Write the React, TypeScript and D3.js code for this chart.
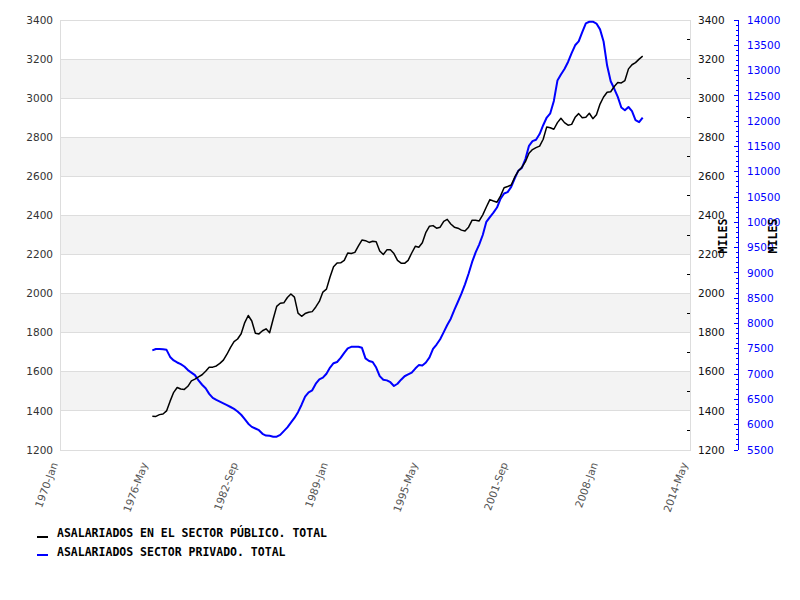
import React from "react";
import * as d3 from "d3";

const startYear = 1976;
const startMonth = 6; // July (quarter 3)

const publicValues = [
  1373, 1372, 1381, 1384, 1400, 1450, 1495, 1520, 1512, 1510,
  1526, 1554, 1563, 1574, 1585, 1603, 1623, 1624, 1630, 1643,
  1660, 1690, 1725, 1754, 1768, 1795, 1852, 1888, 1860, 1797,
  1794, 1810, 1820, 1800, 1870, 1935, 1951, 1953, 1980, 1998,
  1982, 1900, 1884, 1898, 1905, 1908, 1932, 1960, 2008, 2023,
  2085, 2138, 2157, 2158, 2170, 2208, 2205, 2211, 2244, 2274,
  2271, 2262, 2268, 2265, 2218, 2200, 2224, 2225, 2205, 2170,
  2156, 2155, 2170, 2208, 2242, 2237, 2260, 2314, 2345, 2348,
  2335, 2340, 2370, 2380, 2356, 2340, 2335, 2325, 2320, 2340,
  2376, 2375, 2372, 2403, 2443, 2481, 2474, 2468, 2500, 2542,
  2548, 2556, 2597, 2627, 2646, 2675, 2718, 2737, 2747, 2755,
  2790, 2853, 2849, 2841, 2875, 2897, 2875, 2862, 2866, 2902,
  2921, 2900, 2903, 2923, 2895, 2915, 2970, 3006, 3030, 3033,
  3060, 3080, 3078, 3090, 3150, 3171, 3182, 3200, 3215,
];

const privateValues = [
  7470, 7497, 7497, 7490, 7480, 7340, 7270, 7230, 7197, 7150,
  7080, 7030, 6980, 6876, 6790, 6720, 6610, 6530, 6490, 6456,
  6423, 6388, 6350, 6313, 6262, 6197, 6112, 6020, 5957, 5925,
  5891, 5820, 5785, 5780, 5763, 5763, 5800, 5873, 5947, 6040,
  6134, 6248, 6395, 6554, 6640, 6680, 6810, 6896, 6930, 7008,
  7130, 7215, 7240, 7320, 7420, 7510, 7540, 7540, 7540, 7520,
  7310, 7260, 7240, 7130, 6960, 6890, 6876, 6840, 6765, 6810,
  6890, 6958, 6994, 7030, 7110, 7178, 7170, 7230, 7330, 7500,
  7585, 7690, 7830, 7970, 8095, 8270, 8430, 8590, 8775, 8985,
  9217, 9405, 9560, 9750, 10010, 10105, 10193, 10293, 10467, 10570,
  10598, 10700, 10868, 11021, 11075, 11250, 11513, 11605, 11632, 11745,
  11920, 12072, 12155, 12400, 12803, 12922, 13030, 13170, 13346, 13500,
  13577, 13760, 13934, 13966, 13966, 13930, 13815, 13575, 13100, 12790,
  12640, 12480, 12270, 12216, 12280, 12200, 12020, 11980, 12070,
];

const seriesNames = [
  "ASALARIADOS EN EL SECTOR PÚBLICO. TOTAL",
  "ASALARIADOS SECTOR PRIVADO. TOTAL",
];
const seriesColors = ["#000000", "#0000ff"];

const xTickLabels = ["1970-Jan", "1976-May", "1982-Sep", "1989-Jan", "1995-May", "2001-Sep", "2008-Jan", "2014-May"];
const leftTicks = [1200, 1400, 1600, 1800, 2000, 2200, 2400, 2600, 2800, 3000, 3200, 3400];
const rightTicks = [5500, 6000, 6500, 7000, 7500, 8000, 8500, 9000, 9500, 10000, 10500, 11000, 11500, 12000, 12500, 13000, 13500, 14000];
const axisTitle = "MILES";

const monthIdx: Record<string, number> = { Jan: 0, May: 4, Sep: 8 };
const parseTick = (s: string) => {
  const [y, m] = s.split("-");
  return new Date(+y, monthIdx[m], 1);
};

const L = 60, R = 690, T = 20, B = 450;

export default function App() {
  const x = d3.scaleTime().domain([parseTick(xTickLabels[0]), parseTick(xTickLabels[xTickLabels.length - 1])]).range([L, R]);
  const yL = d3.scaleLinear().domain([1200, 3400]).range([B, T]);
  const yR = d3.scaleLinear().domain([5500, 14000]).range([B, T]);

  const dates = publicValues.map((_, i) => new Date(startYear, startMonth + 3 * i, 1));
  const lineL = d3.line<number>().x((_, i) => x(dates[i])).y((d) => yL(d));
  const lineR = d3.line<number>().x((_, i) => x(dates[i])).y((d) => yR(d));

  const bands = leftTicks.slice(0, -1).map((v, i) => ({ v0: v, v1: leftTicks[i + 1], grey: i % 2 === 1 }));
  const minorLeft = d3.range(1300, 3400, 200);
  const minorRight = d3.range(5500, 14001, 100).filter((v) => v % 500 !== 0);

  const font = "'DejaVu Sans', sans-serif";
  const mono = "'DejaVu Sans Mono', monospace";
  const blueAxisX = 738;

  return (
    <svg width={800} height={600} style={{ position: "absolute", left: 0, top: 0, background: "#fff" }}>
      <rect x={0} y={0} width={800} height={600} fill="#fff" />
      {bands.map((b, i) =>
        b.grey ? (
          <rect key={i} x={L} y={yL(b.v1)} width={R - L} height={yL(b.v0) - yL(b.v1)} fill="#f3f3f3" />
        ) : null
      )}
      {leftTicks.map((v) => (
        <line key={v} x1={L} x2={R} y1={yL(v)} y2={yL(v)} stroke="#dddddd" strokeWidth={1} shapeRendering="crispEdges" />
      ))}
      <rect x={L} y={T} width={R - L} height={B - T} fill="none" stroke="#dddddd" strokeWidth={1} shapeRendering="crispEdges" />

      {/* left axis labels */}
      {leftTicks.map((v) => (
        <text key={v} x={53} y={yL(v)} dy="0.35em" textAnchor="end" fontFamily={font} fontSize={10.5} fill="#333">
          {v}
        </text>
      ))}
      {/* right black axis */}
      {minorLeft.map((v) => (
        <line key={v} x1={R - 3} x2={R} y1={yL(v)} y2={yL(v)} stroke="#000" strokeWidth={1} shapeRendering="crispEdges" />
      ))}
      {leftTicks.map((v) => (
        <text key={v} x={698} y={yL(v)} dy="0.35em" textAnchor="start" fontFamily={font} fontSize={10.5} fill="#111">
          {v}
        </text>
      ))}
      <text x={727} y={236} transform="rotate(-90 727 236)" textAnchor="middle" fontFamily={mono} fontWeight="bold" fontSize={11.6} fill="#000">
        {axisTitle}
      </text>

      {/* right blue axis */}
      <line x1={blueAxisX} x2={blueAxisX} y1={T} y2={B} stroke="#0000ff" strokeWidth={1} shapeRendering="crispEdges" />
      {rightTicks.map((v) => (
        <line key={v} x1={blueAxisX - 4} x2={blueAxisX} y1={yR(v)} y2={yR(v)} stroke="#0000ff" strokeWidth={1} shapeRendering="crispEdges" />
      ))}
      {minorRight.map((v) => (
        <line key={v} x1={blueAxisX - 2} x2={blueAxisX} y1={yR(v)} y2={yR(v)} stroke="#0000ff" strokeWidth={1} shapeRendering="crispEdges" />
      ))}
      {rightTicks.map((v) => (
        <text key={v} x={747} y={yR(v)} dy="0.35em" textAnchor="start" fontFamily={font} fontSize={10.5} fill="#0000ff">
          {v}
        </text>
      ))}
      <text x={777} y={236} transform="rotate(-90 777 236)" textAnchor="middle" fontFamily={mono} fontWeight="bold" fontSize={11.6} fill="#000">
        {axisTitle}
      </text>

      {/* x axis labels */}
      {xTickLabels.map((s) => {
        const px = x(parseTick(s)) - 2;
        const py = 464;
        return (
          <text key={s} x={px} y={py} transform={`rotate(-70 ${px} ${py})`} textAnchor="end" fontFamily={font} fontSize={10.5} fill="#555">
            {s}
          </text>
        );
      })}

      {/* series */}
      <path d={lineR(privateValues) ?? ""} fill="none" stroke={seriesColors[1]} strokeWidth={2} strokeLinejoin="round" />
      <path d={lineL(publicValues) ?? ""} fill="none" stroke={seriesColors[0]} strokeWidth={1.5} strokeLinejoin="round" />

      {/* legend */}
      {seriesNames.map((n, i) => (
        <g key={n}>
          <rect x={37} y={536 + i * 18} width={11} height={2} fill={seriesColors[i]} />
          <text x={57} y={537 + i * 19} fontFamily={mono} fontWeight="bold" fontSize={11.5} fill="#000">
            {n}
          </text>
        </g>
      ))}
    </svg>
  );
}
